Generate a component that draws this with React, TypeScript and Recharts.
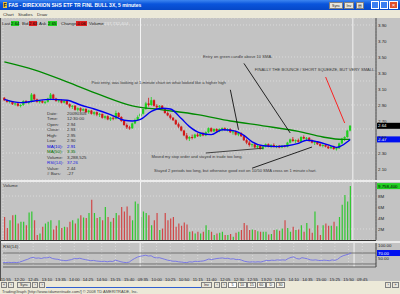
import React from 'react';
import { ComposedChart, Bar, Line, XAxis, YAxis, CartesianGrid, ReferenceLine, ReferenceDot, Cell } from 'recharts';

const FONT = '"Liberation Sans", Arial, sans-serif';
const GREEN = '#1fd01f';
const RED = '#d01818';
const PANEL = '#c3c3c3';
const GRID = '#dadada';

// 5 minute candles, Thu 05 Mar 11:50 -> Fri 06 Mar 15:55: [open, high, low, close]
const candles: number[][] = [
  [2.99, 3.00, 2.95, 2.96], [2.96, 2.97, 2.93, 2.94], [2.94, 2.96, 2.92, 2.95], [2.95, 2.95, 2.90, 2.91],
  [2.91, 2.93, 2.89, 2.92], [2.92, 2.92, 2.88, 2.89], [2.89, 2.91, 2.87, 2.90], [2.90, 2.96, 2.89, 2.95],
  [2.95, 2.96, 2.92, 2.93], [2.93, 2.95, 2.91, 2.94], [2.94, 3.05, 2.93, 3.03], [3.03, 3.04, 2.96, 2.97],
  [2.97, 2.98, 2.93, 2.94], [2.94, 2.96, 2.92, 2.95], [2.95, 2.96, 2.92, 2.93], [2.93, 2.95, 2.91, 2.94],
  [2.94, 2.99, 2.93, 2.98], [2.98, 3.05, 2.96, 3.03], [3.03, 3.04, 2.97, 2.98], [2.98, 2.99, 2.94, 2.95],
  [2.95, 2.97, 2.93, 2.96], [2.96, 2.97, 2.92, 2.93], [2.93, 2.96, 2.92, 2.95], [2.95, 2.95, 2.90, 2.91],
  [2.91, 2.92, 2.86, 2.88], [2.88, 2.90, 2.85, 2.89], [2.89, 2.90, 2.83, 2.84], [2.84, 2.87, 2.82, 2.86],
  [2.86, 2.87, 2.81, 2.83], [2.83, 2.86, 2.82, 2.85], [2.85, 2.86, 2.80, 2.81], [2.81, 2.84, 2.79, 2.83],
  [2.83, 2.84, 2.78, 2.79], [2.79, 2.82, 2.77, 2.81], [2.81, 2.82, 2.76, 2.78], [2.78, 2.80, 2.75, 2.79],
  [2.79, 2.79, 2.73, 2.74], [2.74, 2.77, 2.72, 2.76], [2.76, 2.77, 2.71, 2.72], [2.72, 2.75, 2.70, 2.74],
  [2.74, 2.76, 2.71, 2.73], [2.73, 2.83, 2.72, 2.80], [2.80, 2.81, 2.74, 2.75], [2.75, 2.76, 2.69, 2.70],
  [2.70, 2.71, 2.64, 2.65], [2.65, 2.67, 2.60, 2.62], [2.62, 2.64, 2.59, 2.61], [2.61, 2.68, 2.60, 2.67],
  [2.67, 2.73, 2.66, 2.71], [2.71, 2.77, 2.70, 2.75],
  // Friday
  [2.76, 2.80, 2.74, 2.79], [2.79, 2.86, 2.78, 2.85], [2.85, 2.94, 2.84, 2.92], [2.92, 2.99, 2.88, 2.90],
  [2.90, 3.00, 2.89, 2.96], [2.96, 2.97, 2.88, 2.89], [2.89, 2.91, 2.85, 2.87], [2.87, 2.90, 2.84, 2.89],
  [2.89, 2.90, 2.84, 2.85], [2.85, 2.86, 2.79, 2.80], [2.80, 2.82, 2.76, 2.77], [2.77, 2.79, 2.72, 2.74],
  [2.74, 2.75, 2.70, 2.71], [2.71, 2.72, 2.65, 2.66], [2.66, 2.68, 2.61, 2.63], [2.63, 2.64, 2.57, 2.58],
  [2.58, 2.59, 2.51, 2.52], [2.52, 2.55, 2.46, 2.48], [2.48, 2.51, 2.45, 2.50], [2.50, 2.53, 2.47, 2.49],
  [2.49, 2.54, 2.48, 2.53], [2.53, 2.55, 2.50, 2.51], [2.51, 2.55, 2.50, 2.54], [2.54, 2.56, 2.51, 2.52],
  [2.52, 2.57, 2.51, 2.56], [2.56, 2.62, 2.55, 2.61], [2.61, 2.62, 2.56, 2.57], [2.57, 2.61, 2.56, 2.60],
  [2.60, 2.61, 2.56, 2.57], [2.57, 2.61, 2.56, 2.60], [2.60, 2.62, 2.57, 2.61], [2.61, 2.62, 2.58, 2.59],
  [2.59, 2.61, 2.57, 2.60], [2.60, 2.61, 2.55, 2.56], [2.56, 2.58, 2.53, 2.57], [2.57, 2.58, 2.52, 2.53],
  [2.53, 2.56, 2.51, 2.55], [2.55, 2.56, 2.50, 2.51], [2.51, 2.52, 2.45, 2.46], [2.46, 2.48, 2.41, 2.43],
  [2.43, 2.45, 2.38, 2.40], [2.40, 2.42, 2.37, 2.41], [2.41, 2.42, 2.36, 2.37], [2.37, 2.40, 2.35, 2.39],
  [2.39, 2.40, 2.34, 2.35], [2.35, 2.39, 2.34, 2.38], [2.38, 2.42, 2.37, 2.41], [2.41, 2.42, 2.37, 2.38],
  [2.38, 2.41, 2.36, 2.40], [2.40, 2.42, 2.37, 2.38], [2.38, 2.40, 2.36, 2.39], [2.39, 2.40, 2.36, 2.37],
  [2.37, 2.40, 2.36, 2.39], [2.39, 2.40, 2.37, 2.38], [2.38, 2.44, 2.37, 2.43], [2.43, 2.48, 2.42, 2.47],
  [2.47, 2.50, 2.44, 2.45], [2.45, 2.47, 2.42, 2.46], [2.46, 2.48, 2.43, 2.44], [2.44, 2.51, 2.43, 2.50],
  [2.50, 2.52, 2.47, 2.48], [2.48, 2.50, 2.45, 2.49], [2.49, 2.50, 2.44, 2.45], [2.45, 2.47, 2.42, 2.43],
  [2.43, 2.45, 2.40, 2.44], [2.44, 2.45, 2.40, 2.41], [2.41, 2.43, 2.38, 2.39], [2.39, 2.41, 2.37, 2.40],
  [2.40, 2.41, 2.37, 2.38], [2.38, 2.40, 2.35, 2.36], [2.36, 2.39, 2.35, 2.38], [2.38, 2.39, 2.34, 2.35],
  [2.35, 2.37, 2.33, 2.36], [2.36, 2.43, 2.35, 2.42], [2.42, 2.49, 2.41, 2.48], [2.48, 2.51, 2.45, 2.50],
  [2.50, 2.59, 2.49, 2.58], [2.58, 2.65, 2.57, 2.64],
];

// volume per bar, millions
const volumeM: number[] = [
  4.2, 2.2, 3.6, 4.5, 4.6, 3.0, 3.3, 3.3, 2.7, 5.0,
  5.2, 3.6, 0.9, 1.2, 2.4, 3.0, 3.3, 3.6, 1.9, 2.6,
  3.6, 2.2, 2.4, 2.3, 3.3, 3.6, 3.0, 3.9, 4.5, 4.1,
  4.0, 4.9, 7.3, 4.9, 4.0, 4.2, 3.6, 6.0, 4.2, 3.3,
  4.0, 4.9, 4.5, 6.0, 5.2, 6.1, 4.4, 3.6, 7.0, 6.6,
  4.2, 5.2, 4.9, 4.5, 2.7, 3.6, 4.9, 1.8, 2.1, 4.9,
  3.6, 3.9, 4.2, 2.4, 3.0, 2.6, 3.2, 2.8, 1.5, 1.6,
  1.2, 1.5, 1.2, 1.5, 2.7, 1.8, 1.5, 0.9, 1.2, 1.3,
  1.5, 0.9, 0.9, 1.1, 0.6, 1.3, 1.5, 1.8, 3.1, 2.7,
  1.8, 1.9, 1.8, 1.6, 1.5, 1.5, 1.5, 1.0, 1.1, 1.8,
  1.9, 1.7, 2.1, 3.6, 2.2, 1.5, 2.4, 1.8, 1.9, 2.7,
  1.5, 3.1, 2.1, 1.3, 5.2, 2.7, 0.9, 2.7, 3.0, 2.6,
  2.6, 3.3, 2.5, 4.2, 6.4, 8.2, 7.0, 9.8,
];

const rsi14: number[] = [
  36, 35, 36, 35, 36, 35, 37, 40, 44, 47,
  52, 54, 51, 52, 50, 53, 52, 55, 50, 48,
  47, 44, 43, 42, 44, 46, 50, 49, 51, 48,
  46, 44, 42, 43, 41, 40, 39, 40, 38, 40,
  39, 44, 41, 38, 36, 35, 37, 44, 50, 55,
  58, 60, 62, 59, 60, 54, 52, 53, 50, 47,
  44, 42, 40, 40, 38, 37, 36, 35, 38, 37,
  40, 39, 40, 41, 44, 48, 46, 48, 50, 51,
  52, 50, 51, 48, 49, 46, 47, 44, 40, 38,
  37, 38, 37, 38, 37, 40, 43, 42, 44, 43,
  45, 44, 45, 44, 50, 54, 56, 50, 48, 53,
  51, 49, 45, 44, 45, 43, 42, 44, 43, 42,
  45, 43, 47, 55, 60, 63, 66, 70,
];

// moving averages read at some bars: [bar, value]
const ma10Pts: [number, number][] = [
  [0, 2.97], [6, 2.93], [11, 2.95], [17, 2.97], [23, 2.96], [28, 2.90], [33, 2.85], [39, 2.78],
  [44, 2.71], [47, 2.70], [50, 2.72], [54, 2.82], [58, 2.86], [61, 2.85], [65, 2.73], [68, 2.63],
  [72, 2.55], [76, 2.53], [80, 2.59], [84, 2.58], [88, 2.52], [91, 2.44], [95, 2.39], [100, 2.38],
  [104, 2.39], [108, 2.42], [111, 2.46], [115, 2.44], [120, 2.39], [122, 2.37], [126, 2.44], [127, 2.47],
];
const ma50Pts: [number, number][] = [
  [0, 3.44], [11, 3.34], [23, 3.19], [35, 3.03], [47, 2.89], [58, 2.84], [71, 2.78], [83, 2.70],
  [95, 2.64], [108, 2.57], [117, 2.50], [124, 2.47], [127, 2.47],
];

const mondaySlots = 9; // empty Monday bars at the right edge

const priceTicks = [2.0, 2.1, 2.2, 2.3, 2.4, 2.5, 2.6, 2.7, 2.8, 2.9, 3.0, 3.1, 3.2, 3.3, 3.4, 3.5, 3.6, 3.7, 3.8, 3.9];
const volumeTicks = [2, 4, 6, 8];
const rsiTicks = [50, 100];
const tickBars = [1, 6, 11, 16, 21, 26, 31, 36, 41, 46, 51, 56, 61, 66, 71, 76, 81, 86, 91, 96, 101, 106, 111, 116, 121, 126, 131];
const tickLabels = ['11:55', '12:20', '12:45', '13:10', '13:35', '14:00', '14:25', '14:50', '15:15', '15:40',
  '09:35', '10:00', '10:25', '10:50', '11:15', '11:40', '12:05', '12:30', '12:55', '13:20', '13:45',
  '14:10', '14:35', '15:00', '15:25', '15:50', '09:45'];
const dayLabels: Record<number, string> = { 1: 'Thu 05 Mar, 2009', 51: 'Fri 06 Mar, 2009', 131: 'Mon 09 Mar, 2009' };
const dayStarts = [50, 128];

const notes: { bar: number; price: number; text: string }[] = [
  { bar: 73, price: 3.5, text: 'Entry on green candle above 10 SMA.' },
  { bar: 92, price: 3.346, text: 'FINALLY THE BOUNCE / SHORT SQUEEZE, BUT VERY SMALL.' },
  { bar: 32, price: 3.181, text: 'Post entry, was looking at 1-minute chart on what looked like a higher high' },
  { bar: 54, price: 2.25, text: 'Moved my stop order and stayed in trade too long.' },
  { bar: 55, price: 2.079, text: 'Stayed 2 periods too long, but otherwise good exit on 10/50 SMA cross on 1 minute chart.' },
];
const arrows: { from: [number, number]; to: [number, number]; color: string }[] = [
  { from: [88, 3.42], to: [105, 2.55], color: '#111' },
  { from: [83, 3.09], to: [86, 2.59], color: '#111' },
  { from: [74, 2.30], to: [95, 2.36], color: '#333' },
  { from: [91, 2.11], to: [113, 2.375], color: '#111' },
  { from: [118, 3.25], to: [125, 2.675], color: '#ff1010' },
];

const infoRows: [string, string, string][] = [
  ['Date:', '20090305', '#303030'], ['Time:', '12:30:00', '#303030'], ['Open:', '2.94', '#303030'],
  ['Close:', '2.93', '#303030'], ['High:', '2.95', '#303030'], ['Low:', '2.90', '#303030'],
  ['MA(10):', '2.91', '#0000e0'], ['MA(50):', '3.35', '#007000'], ['Volume:', '3,288,525', '#303030'],
  ['RSI(14):', '37.26', '#2020e0'], ['Value:', '2.44', '#303030'], ['# Bars:', '-27', '#303030'],
];

const ma10Map = new Map(ma10Pts);
const ma50Map = new Map(ma50Pts);
const rows = Array.from({ length: candles.length + mondaySlots }, (_, i) => {
  const c = candles[i];
  return {
    i,
    range: c ? [c[2], c[1]] : null,
    o: c ? c[0] : null,
    h: c ? c[1] : null,
    l: c ? c[2] : null,
    c: c ? c[3] : null,
    vol: c ? volumeM[i] : null,
    rsi: c ? rsi14[i] : null,
    ma10: ma10Map.has(i) ? ma10Map.get(i) : null,
    ma50: ma50Map.has(i) ? ma50Map.get(i) : null,
  };
});

const lastClose = candles[candles.length - 1][3];
const lastMa10 = ma10Pts[ma10Pts.length - 1][1];
const lastVol = volumeM[volumeM.length - 1];
const lastRsi = rsi14[rsi14.length - 1];

const Candle = (props: any) => {
  const { x, y, width, height, payload } = props;
  if (!payload || payload.o == null || !height) return null;
  const { o, h, l, c } = payload;
  const color = c >= o ? GREEN : RED;
  const k = height / (h - l);
  const top = y + (h - Math.max(o, c)) * k;
  const bh = Math.max(1, Math.abs(o - c) * k);
  const cx = x + width / 2;
  return (
    <g>
      <line x1={cx} x2={cx} y1={y} y2={y + height} stroke={color} strokeWidth={0.8} />
      <rect x={cx - 1.1} y={top} width={2.2} height={bh} fill={color} />
    </g>
  );
};

const AxisBox = (props: any) => {
  const { viewBox, text, bg, color } = props;
  if (!viewBox) return null;
  const x = viewBox.x + viewBox.width;
  return (
    <g>
      <rect x={x + 1} y={viewBox.y - 3} width={23} height={6} fill={bg} />
      <text x={x + 2} y={viewBox.y + 1.6} fontSize={4.4} fill={color} fontFamily={FONT}>{text}</text>
    </g>
  );
};

const TimeTick = (props: any) => {
  const { x, y, payload } = props;
  const k = tickBars.indexOf(payload.value);
  const day = dayLabels[payload.value];
  return (
    <g>
      <text x={x} y={y + 5.5} textAnchor="middle" fontSize={4.2} fill="#202020" fontFamily={FONT}>{tickLabels[k]}</text>
      {day && <text x={x - 5} y={y + 10.5} fontSize={4.2} fill="#202020" fontFamily={FONT}>{day}</text>}
    </g>
  );
};

const tickStyle = { fontSize: 4.4, fill: '#202020', fontFamily: FONT };

const txt = (s: React.CSSProperties): React.CSSProperties => ({
  position: 'absolute', fontFamily: FONT, fontSize: 4.4, lineHeight: '5px', whiteSpace: 'nowrap', ...s,
});

const Btn = ({ x, y, w, h, label, bg = '#e8e6dc' }: any) => (
  <div style={txt({ left: x, top: y, width: w, height: h, background: bg, border: '0.5px solid #808080',
    boxSizing: 'border-box', textAlign: 'center', lineHeight: `${h - 1}px`, color: '#202020', fontSize: 3.6 })}>{label}</div>
);

export default function App() {
  return (
    <div style={{ position: 'absolute', left: 0, top: 0, width: 400, height: 294, background: PANEL, overflow: 'hidden' }}>
      {/* title bar */}
      <div style={{ position: 'absolute', left: 0, top: 0, width: 400, height: 10,
        background: 'linear-gradient(#3d86f0, #0a55dc 40%, #0648c8)' }} />
      <div style={txt({ left: 3, top: 2, fontSize: 5, fontWeight: 'bold', color: '#fff', lineHeight: '6px' })}>
        <span style={{ background: '#e8c040', color: '#202020', padding: '0 0.5px' }}>F</span> FAS - DIREXXION SHS ETF TR FINL BULL 3X, 5 minutes
      </div>
      <Btn x={329} y={2} w={14} h={7} label="Sync" />
      <Btn x={344} y={2} w={10} h={7} label="Inv" />
      <Btn x={356} y={2} w={8} h={7} label="▤" />
      <div style={{ position: 'absolute', left: 371, top: 1, width: 8, height: 8, background: '#3a7ff0', border: '0.5px solid #fff', boxSizing: 'border-box' }} />
      <div style={{ position: 'absolute', left: 380, top: 1, width: 8, height: 8, background: '#3a7ff0', border: '0.5px solid #fff', boxSizing: 'border-box' }} />
      <div style={{ position: 'absolute', left: 389, top: 1, width: 9, height: 8, background: '#e0502a', border: '0.5px solid #fff', boxSizing: 'border-box', color: '#fff', fontSize: 6, lineHeight: '7px', textAlign: 'center', fontFamily: FONT }}>×</div>

      {/* menu */}
      <div style={{ position: 'absolute', left: 0, top: 10, width: 400, height: 8, background: '#ece9d8' }} />
      <div style={txt({ left: 3, top: 12, color: '#303030' })}>Chart</div>
      <div style={txt({ left: 18, top: 12, color: '#303030' })}>Studies</div>
      <div style={txt({ left: 37, top: 12, color: '#303030' })}>Draw</div>

      {/* price panel */}
      <div style={{ position: 'absolute', left: 0, top: 18 }}>
        <ComposedChart width={400} height={162} data={rows} margin={{ top: 0, right: 0, bottom: 0, left: 3 }}>
          <CartesianGrid stroke={GRID} strokeDasharray="1 2" />
          <XAxis dataKey="i" ticks={tickBars} height={0} tick={false} axisLine={false} tickLine={false} />
          <YAxis orientation="right" width={24} domain={[1.9625, 3.9875]} ticks={priceTicks} allowDataOverflow
            tickFormatter={(v: number) => v.toFixed(2)} tick={tickStyle} tickLine={false} tickSize={0} tickMargin={2}
            axisLine={{ stroke: '#404040' }} />
          {dayStarts.map((d) => <ReferenceLine key={d} x={d} stroke="#f4f4f4" strokeWidth={1} />)}
          <Line dataKey="ma50" type="monotone" stroke="#008a00" strokeWidth={1.3} dot={false} connectNulls isAnimationActive={false} />
          <Line dataKey="ma10" type="monotone" stroke="#0000f0" strokeWidth={1.4} dot={false} connectNulls isAnimationActive={false} />
          <Bar dataKey="range" shape={<Candle />} isAnimationActive={false} />
          {arrows.map((a, k) => (
            <ReferenceLine key={k} segment={[{ x: a.from[0], y: a.from[1] }, { x: a.to[0], y: a.to[1] }]} stroke={a.color} strokeWidth={0.9} />
          ))}
          {notes.map((n, k) => (
            <ReferenceDot key={k} x={n.bar} y={n.price} r={0} stroke="none" fill="none"
              label={{ value: n.text, position: 'right', offset: 0, fontSize: 4.1, fill: '#383838', fontFamily: FONT }} />
          ))}
          <ReferenceLine y={lastClose} stroke="none" label={<AxisBox text={lastClose.toFixed(2)} bg="#000" color="#fff" />} />
          <ReferenceLine y={lastMa10} stroke="none" label={<AxisBox text={lastMa10.toFixed(2)} bg="#0010f0" color="#fff" />} />
        </ComposedChart>
      </div>

      {/* quote row */}
      <div style={txt({ left: 2, top: 21, color: '#202020' })}>Last</div>
      <div style={txt({ left: 11, top: 21, width: 8, background: '#22d022', color: '#000' })}>2.64</div>
      <div style={txt({ left: 22, top: 21, color: '#202020' })}>Bid</div>
      <div style={txt({ left: 29, top: 21, width: 8, background: '#e02020', color: '#000' })}>2.63</div>
      <div style={txt({ left: 39, top: 21, color: '#202020' })}>Ask</div>
      <div style={txt({ left: 48, top: 21, width: 9, background: '#22d022', color: '#000' })}>2.65</div>
      <div style={txt({ left: 61, top: 21, color: '#202020' })}>Change</div>
      <div style={txt({ left: 76, top: 21, width: 11, background: '#e02020', color: '#000' })}>-0.06</div>
      <div style={txt({ left: 89, top: 21, color: '#202020' })}>Volume</div>
      <div style={txt({ left: 104, top: 21, color: '#e8e8e8' })}>237,732,404</div>

      {/* data window */}
      {infoRows.map((r, k) => (
        <React.Fragment key={k}>
          <div style={txt({ left: 47, top: 110.5 + k * 5.5, color: r[2] })}>{r[0]}</div>
          <div style={txt({ left: 67, top: 110.5 + k * 5.5, color: r[2] })}>{r[1]}</div>
        </React.Fragment>
      ))}

      {/* separator */}
      <div style={{ position: 'absolute', left: 0, top: 180, width: 400, height: 2, background: '#ececec' }} />

      {/* volume panel */}
      <div style={{ position: 'absolute', left: 0, top: 182 }}>
        <ComposedChart width={400} height={58} data={rows} margin={{ top: 0, right: 0, bottom: 0, left: 3 }}>
          <CartesianGrid stroke={GRID} strokeDasharray="1 2" />
          <XAxis dataKey="i" ticks={tickBars} height={0} tick={false} axisLine={false} tickLine={false} />
          <YAxis orientation="right" width={24} domain={[0, 10.55]} ticks={volumeTicks} allowDataOverflow
            tickFormatter={(v: number) => `${v}M`} tick={tickStyle} tickLine={false} tickSize={0} tickMargin={2}
            axisLine={{ stroke: '#404040' }} />
          {dayStarts.map((d) => <ReferenceLine key={d} x={d} stroke="#f4f4f4" strokeWidth={1} />)}
          <Bar dataKey="vol" barSize={1.2} isAnimationActive={false}>
            {rows.map((r, k) => <Cell key={k} fill={r.c != null && r.c >= (r.o as number) ? '#30c830' : '#d04848'} />)}
          </Bar>
          <ReferenceLine y={lastVol} stroke="none" label={<AxisBox text="9,758,400" bg="#20d020" color="#000" />} />
        </ComposedChart>
      </div>
      <div style={txt({ left: 3, top: 183, color: '#303030' })}>Volume</div>
      <div style={{ position: 'absolute', left: 0, top: 240, width: 376, height: 1, background: '#303030' }} />
      <div style={{ position: 'absolute', left: 0, top: 241, width: 400, height: 2, background: '#ececec' }} />

      {/* RSI panel + time axis */}
      <div style={{ position: 'absolute', left: 0, top: 243 }}>
        <ComposedChart width={400} height={38} data={rows} margin={{ top: 0, right: 0, bottom: 0, left: 3 }}>
          <CartesianGrid stroke={GRID} strokeDasharray="1 2" horizontal={false} />
          <XAxis dataKey="i" ticks={tickBars} height={14} tick={<TimeTick />} interval={0} tickLine={false}
            axisLine={{ stroke: '#606060' }} />
          <YAxis orientation="right" width={24} domain={[19, 106.5]} ticks={rsiTicks} allowDataOverflow
            tickFormatter={(v: number) => v.toFixed(2)} tick={tickStyle} tickLine={false} tickSize={0} tickMargin={2}
            axisLine={{ stroke: '#404040' }} />
          {dayStarts.map((d) => <ReferenceLine key={d} x={d} stroke="#f4f4f4" strokeWidth={1} />)}
          <ReferenceLine y={70} stroke="#5a5a5a" strokeWidth={0.8} />
          <ReferenceLine y={30} stroke="#5a5a5a" strokeWidth={0.8} />
          <Line dataKey="rsi" type="linear" stroke="#7070e8" strokeWidth={0.9} dot={false} isAnimationActive={false} />
          <ReferenceLine y={lastRsi} stroke="none" label={<AxisBox text={lastRsi.toFixed(2)} bg="#0010f0" color="#fff" />} />
        </ComposedChart>
      </div>
      <div style={txt({ left: 3, top: 244, color: '#303030' })}>RSI(14)</div>

      {/* bottom bar */}
      <div style={{ position: 'absolute', left: 0, top: 281, width: 400, height: 13, background: '#ece9d8' }} />
      <Btn x={1} y={282} w={6} h={6} label="«" />
      <Btn x={8} y={282} w={6} h={6} label="‹" />
      <Btn x={17} y={282} w={14} h={6} label="Sync" />
      <Btn x={32} y={282} w={6} h={6} label="›" />
      <Btn x={39} y={282} w={6} h={6} label="›" />
      <div style={{ position: 'absolute', left: 46, top: 287, width: 155, height: 1, background: '#3060d0' }} />
      <Btn x={201} y={282} w={11} h={6} label="Inv" />
      <Btn x={214} y={282} w={6} h={6} label="‹" />
      <Btn x={221} y={282} w={6} h={6} label="›" />
      {['5', '10', '15', '60', 'D', '30'].map((t, k) => (
        <Btn key={t} x={228 + k * 9.6} y={282} w={9} h={6} label={t} bg={k === 0 ? '#ffffff' : '#f4f2ea'} />
      ))}
      <Btn x={385} y={282} w={6} h={6} label="›" />
      <Btn x={392} y={282} w={7} h={6} label="»" />
      <div style={txt({ left: 2, top: 289, color: '#404040', fontSize: 4 })}>
        TradingGraph [http://www.tdameritrade.com/] © 2008 TD AMERITRADE, Inc.
      </div>
      <div style={{ position: 'absolute', left: 0, top: 18, width: 1, height: 263, background: '#505050' }} />
    </div>
  );
}
